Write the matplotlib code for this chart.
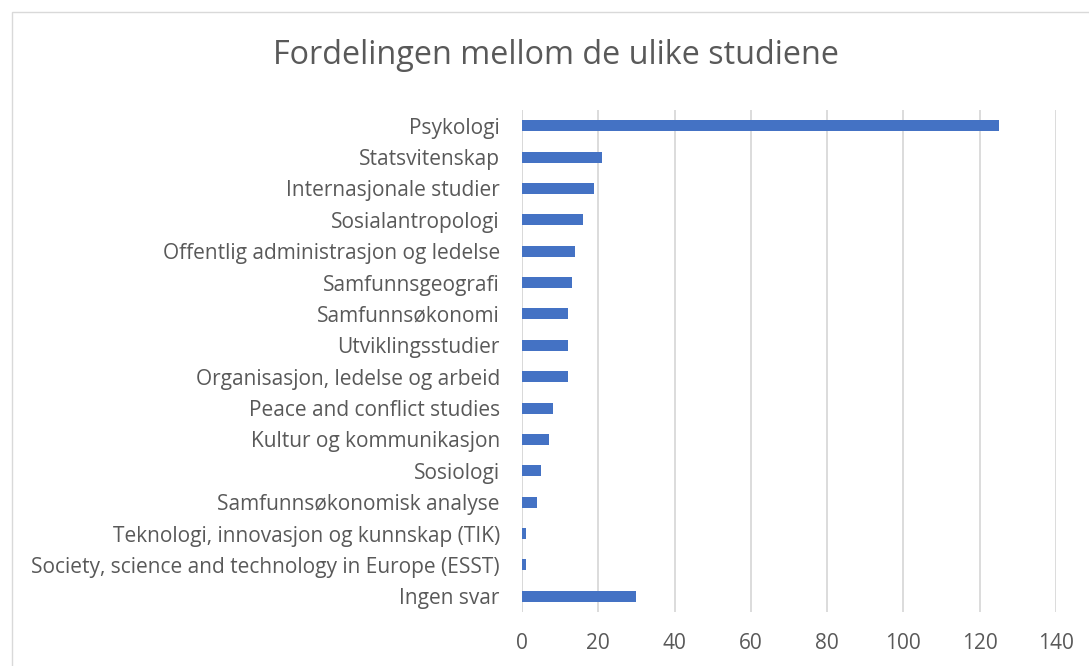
import matplotlib
matplotlib.use("Agg")
import matplotlib.pyplot as plt
from matplotlib.patches import Rectangle

categories = [
    "Psykologi",
    "Statsvitenskap",
    "Internasjonale studier",
    "Sosialantropologi",
    "Offentlig administrasjon og ledelse",
    "Samfunnsgeografi",
    "Samfunnsøkonomi",
    "Utviklingsstudier",
    "Organisasjon, ledelse og arbeid",
    "Peace and conflict studies",
    "Kultur og kommunikasjon",
    "Sosiologi",
    "Samfunnsøkonomisk analyse",
    "Teknologi, innovasjon og kunnskap (TIK)",
    "Society, science and technology in Europe (ESST)",
    "Ingen svar",
]
values = [125, 21, 19, 16, 14, 13, 12, 12, 12, 8, 7, 5, 4, 1, 1, 30]
x_ticks = [0, 20, 40, 60, 80, 100, 120, 140]
title = "Fordelingen mellom de ulike studiene"

plt.rcParams['font.family'] = ['Open Sans', 'DejaVu Sans']
text_color = "#595959"

W, H = 1089, 666
fig = plt.figure(figsize=(W / 100, H / 100), dpi=100)
fig.patch.set_facecolor("white")

# chart border
fig.add_artist(Rectangle((12 / W, -0.01), 1.02, 1 - 12 / H + 0.01, transform=fig.transFigure,
                         fill=False, edgecolor="#D9D9D9", linewidth=1.0))

ax = fig.add_axes([522 / W, 1 - 612 / H, (1056 - 522) / W, (612 - 110) / H])
y = list(range(len(categories)))
ax.barh(y, values, height=0.35, color="#4472C4", zorder=3)
ax.set_ylim(len(categories) - 0.5, -0.5)
ax.set_xlim(0, 140)
ax.set_xticks(x_ticks)
ax.set_yticks(y)
ax.set_yticklabels(categories)
ax.tick_params(axis='both', length=0, colors=text_color, labelsize=15)
ax.tick_params(axis='y', pad=16)
ax.tick_params(axis='x', pad=15)
ax.grid(axis='x', color="#D9D9D9", linewidth=1.3, zorder=0)
for s in ax.spines.values():
    s.set_visible(False)
ax.axvline(0, color="#D9D9D9", linewidth=1.3, zorder=1)

fig.text(556 / W, 1 - 55 / H, title, ha='center', va='center', fontsize=23.3, color=text_color)

fig.savefig("out.png", dpi=100, facecolor="white")
